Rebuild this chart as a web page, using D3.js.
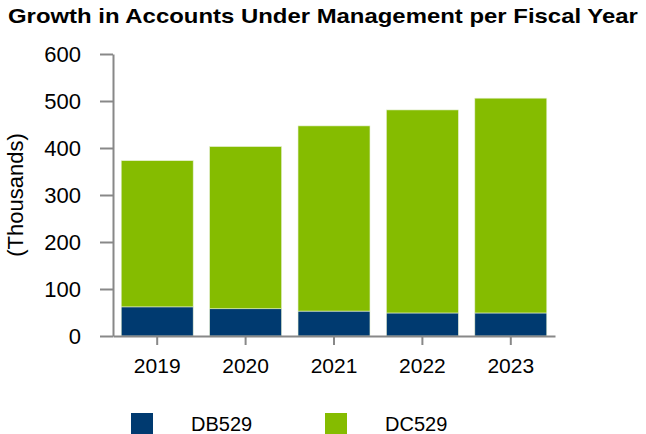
<!DOCTYPE html>
<html>
<head>
<meta charset="utf-8">
<script src="https://cdn.jsdelivr.net/npm/d3@7"></script>
<style>
  body { margin: 0; background: #fff; }
  text { font-family: "Liberation Sans", Arial, sans-serif; fill: #000; }
</style>
</head>
<body>
<div id="chartDiv"></div>
<script>
// data (thousands of accounts)
var years = ["2019", "2020", "2021", "2022", "2023"];
var db529 = [62, 58, 53, 49, 49];
var dc529 = [311, 345, 394, 432, 457];
var yTicks = [0, 100, 200, 300, 400, 500, 600];
var seriesNames = ["DB529", "DC529"];
var seriesColors = ["#003A70", "#85BC00"];

var width = 646, height = 434;
var margin = { top: 54, left: 113, right: 91, bottom: 98 };
var axisColor = "#888";
var labelFont = "Liberation Sans, Arial, sans-serif";

var svg = d3.select("#chartDiv").append("svg")
  .attr("width", width)
  .attr("height", height);

// title - the reference face is a bit wider than Arial, so stretch it to fit
var title = svg.append("text")
  .style("font-size", "21px")
  .style("font-weight", "bold")
  .text("Growth in Accounts Under Management per Fiscal Year");
var titleW = title.node().getComputedTextLength();
title.attr("transform", "translate(8,23) scale(" + (630 / titleW) + ",1)");

var xScale = d3.scaleBand()
  .domain(years)
  .range([margin.left, width - margin.right])
  .paddingInner(0.186)
  .paddingOuter(0.093);

var yScale = d3.scaleLinear()
  .domain([0, 600])
  .range([height - margin.bottom, margin.top]);

// stack the two series
var rows = years.map(function(y, i) { return { year: y, DB529: db529[i], DC529: dc529[i] }; });
var stack = d3.stack().keys(seriesNames)(rows);

svg.selectAll(".layer")
  .data(stack)
  .enter().append("g")
    .attr("class", "layer")
    .style("fill", function(d, i) { return seriesColors[i]; })
  .selectAll("rect")
  .data(function(d) { return d; })
  .enter().append("rect")
    .attr("x", function(d) { return xScale(d.data.year); })
    .attr("y", function(d) { return yScale(d[1]); })
    .attr("width", xScale.bandwidth())
    .attr("height", function(d) { return yScale(d[0]) - yScale(d[1]); })
    .style("stroke", "#e4efd0")
    .style("stroke-width", 0.6);

// y axis
var yAxis = d3.axisLeft(yScale)
  .tickValues(yTicks)
  .tickSize(13)
  .tickPadding(19)
  .tickSizeOuter(0);

var yG = svg.append("g")
  .attr("transform", "translate(" + margin.left + ",0)")
  .call(yAxis);
yG.selectAll("line, path").style("stroke", axisColor).style("stroke-width", 2);
yG.selectAll("text").style("font-size", "22px").style("font-family", labelFont);

// x axis
var xAxis = d3.axisBottom(xScale)
  .tickSize(9)
  .tickPadding(13)
  .tickSizeOuter(0);

var xG = svg.append("g")
  .attr("transform", "translate(0," + (height - margin.bottom) + ")")
  .call(xAxis);
xG.selectAll("line, path").style("stroke", axisColor).style("stroke-width", 2);
xG.selectAll("text").style("font-size", "21px").style("font-family", labelFont);

// y axis title
svg.append("text")
  .attr("text-anchor", "middle")
  .attr("transform", "translate(23,195) rotate(-90)")
  .style("font-size", "22px")
  .text("(Thousands)");

// legend
var legendX = [131, 325];
var legend = svg.selectAll(".legend")
  .data(seriesNames)
  .enter().append("g")
    .attr("class", "legend")
    .attr("transform", function(d, i) { return "translate(" + legendX[i] + ",413)"; });

legend.append("rect")
  .attr("width", 22)
  .attr("height", 22)
  .style("fill", function(d, i) { return seriesColors[i]; });

legend.append("text")
  .attr("x", 60)
  .attr("y", 18)
  .style("font-size", "20px")
  .text(function(d) { return d; });
</script>
</body>
</html>
